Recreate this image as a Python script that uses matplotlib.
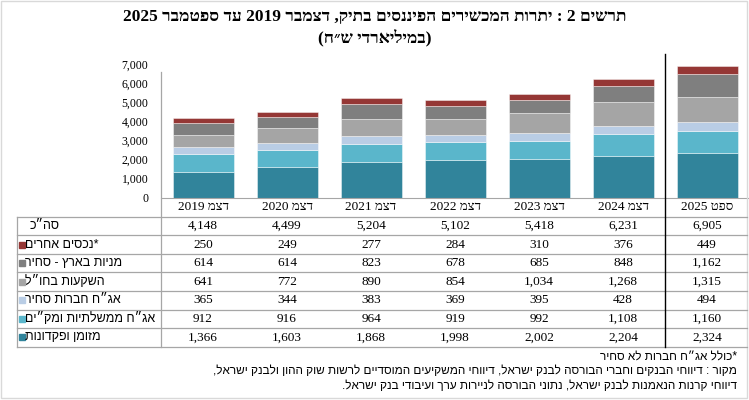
import re
import matplotlib
matplotlib.use("Agg")
import matplotlib.pyplot as plt
from matplotlib.patches import Rectangle

# data (billions NIS)
columns = ["דצמ 2019", "דצמ 2020", "דצמ 2021", "דצמ 2022", "דצמ 2023", "דצמ 2024", "ספט 2025"]
cash = [1366, 1603, 1868, 1998, 2002, 2204, 2324]
gov_bonds = [912, 916, 964, 919, 992, 1108, 1160]
corp_bonds = [365, 344, 383, 369, 395, 428, 494]
abroad = [641, 772, 890, 854, 1034, 1268, 1315]
stocks = [614, 614, 823, 678, 685, 848, 1162]
other = [250, 249, 277, 284, 310, 376, 449]
total = [4148, 4499, 5204, 5102, 5418, 6231, 6905]

names = ["מזומן ופקדונות", "אג״ח ממשלתיות ומק״ים", "אג״ח חברות סחיר",
         "השקעות בחו״ל", "מניות בארץ - סחיר", "*נכסים אחרים"]
colors = ["#31849B", "#5AB6CB", "#B9CDE5", "#A5A5A5", "#7F7F7F", "#953735"]
series = [cash, gov_bonds, corp_bonds, abroad, stocks, other]
yticks = [0, 1000, 2000, 3000, 4000, 5000, 6000, 7000]

title1 = "תרשים 2 : יתרות המכשירים הפיננסים בתיק, דצמבר 2019 עד ספטמבר 2025"
title2 = "(במיליארדי ש״ח)"
notes = ["*כולל אג״ח חברות לא סחיר",
         "מקור : דיווחי הבנקים וחברי הבורסה לבנק ישראל, דיווחי המשקיעים המוסדיים לרשות שוק ההון ולבנק ישראל,",
         "דיווחי קרנות הנאמנות לבנק ישראל, נתוני הבורסה לניירות ערך ועיבודי בנק ישראל."]


def vis(s):
    # simple right-to-left reordering for display, numbers stay LTR
    toks = re.findall(r"\d+(?:[.,]\d+)*|.", s)
    out = []
    for t in reversed(toks):
        if t == "(":
            t = ")"
        elif t == ")":
            t = "("
        out.append(t)
    return "".join(out)


SERIF = ["Liberation Serif", "DejaVu Serif", "DejaVu Sans"]
SANS = ["Liberation Sans", "DejaVu Sans"]

W, H = 749, 400
fig = plt.figure(figsize=(W / 100, H / 100), dpi=100)

x0, col_w = 161, 84
y_zero, y_top = 197.7, 64
ax = fig.add_axes([x0 / W, 1 - y_zero / H, 7 * col_w / W, (y_zero - y_top) / H])
pos = list(range(len(columns)))
bottom = [0] * len(columns)
for vals, c in zip(series, colors):
    ax.bar(pos, vals, bottom=bottom, width=61 / col_w, color=c,
           edgecolor=(1, 1, 1, 0.5), linewidth=0.6)
    bottom = [b + v for b, v in zip(bottom, vals)]
ax.set_xlim(-0.5, 6.5)
ax.set_ylim(0, 7000)
ax.set_yticks(yticks)
ax.set_yticklabels([f"{t:,}" for t in yticks], family=SERIF, fontsize=8.5)
ax.tick_params(axis="y", length=0, pad=9)
ax.set_xticks([])
for s in ["top", "right", "left"]:
    ax.spines[s].set_visible(False)
ax.spines["bottom"].set_color("#A6A6A6")

# overlay in pixel coordinates for table, lines and text
ov = fig.add_axes([0, 0, 1, 1])
ov.set_xlim(0, W)
ov.set_ylim(H, 0)
ov.axis("off")
ov.patch.set_visible(False)

ov.add_patch(Rectangle((1, 1), W - 3, H - 3, fill=False, edgecolor="#D9D9D9", lw=1))

ov.text(375, 17, vis(title1), ha="center", va="center", fontsize=12.5,
        fontweight="bold", family=SERIF)
ov.text(375, 38, vis(title2), ha="center", va="center", fontsize=12.5,
        fontweight="bold", family=SERIF)

t_top, t_bot, t_left, t_right = 216.7, 346.7, 16.7, 746.7
row_h = (t_bot - t_top) / 7
gray = "#A6A6A6"
for i in range(8):
    y = t_top + i * row_h
    ov.plot([t_left, t_right], [y, y], color=gray, lw=0.9)
ov.plot([t_left, t_left], [t_top, t_bot], color=gray, lw=0.9)
ov.plot([x0, x0], [y_top + 8, t_bot], color=gray, lw=0.9)
ov.plot([665, 665], [54, t_bot], color="black", lw=1)

for i, c in enumerate(columns):
    ov.text(x0 + col_w * (i + 0.5), 207, vis(c), ha="center", va="center",
            fontsize=9.5, family=SERIF)

rows = [("סה״כ", None, total)]
for n, c, vals in reversed(list(zip(names, colors, series))):
    rows.append((n, c, vals))

for r, (n, c, vals) in enumerate(rows):
    yc = t_top + row_h * (r + 0.5)
    if c is None:
        ov.text(30, yc, vis(n), ha="left", va="center", fontsize=9, family=SANS)
    else:
        ov.add_patch(Rectangle((18.5, yc - 3), 6, 6, color=c))
        ov.text(25, yc, vis(n), ha="left", va="center", fontsize=9, family=SANS)
    for i, v in enumerate(vals):
        ov.text(x0 + col_w * (i + 0.5), yc, f"{v:,}", ha="center", va="center",
                fontsize=9.5, family=SERIF)

for k, line in enumerate(notes):
    ov.text(737, 357 + k * 14.5, vis(line), ha="right", va="center",
            fontsize=8.5, family=SANS)

fig.savefig("out.png", dpi=100)
